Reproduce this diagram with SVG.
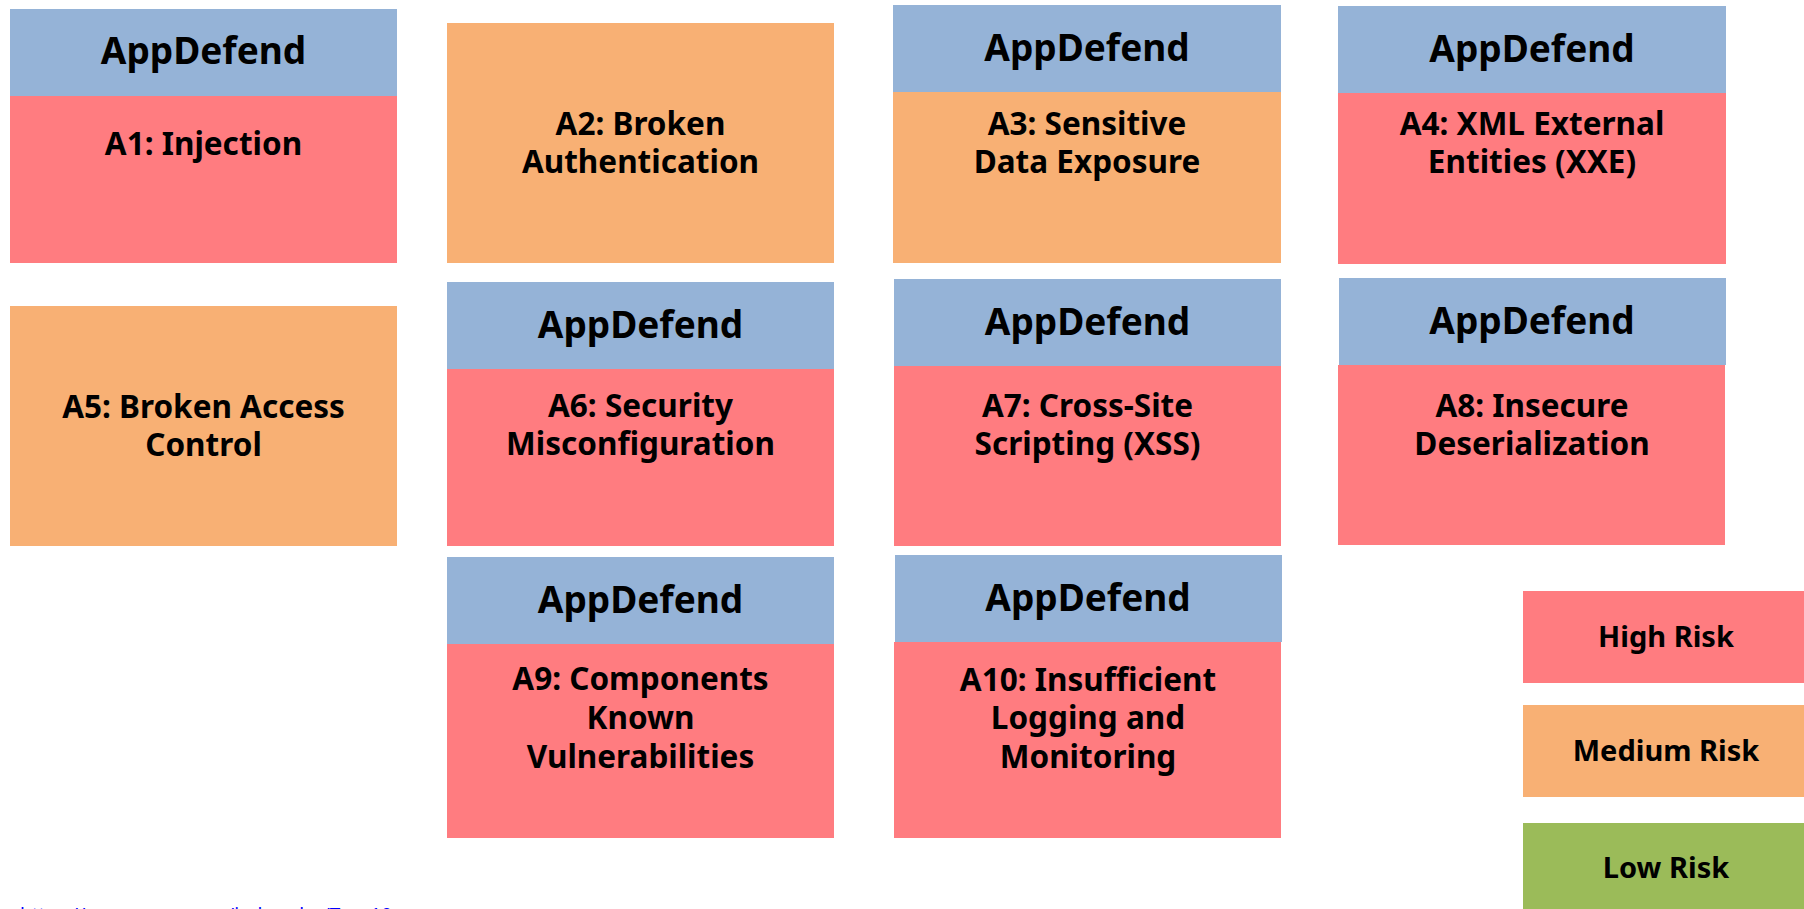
<svg xmlns="http://www.w3.org/2000/svg" width="1804" height="909" viewBox="0 0 1804 909">
<style>
.hd{fill:#95B3D7}
.hi{fill:#FF7C80}
.md{fill:#F8B074}
.lo{fill:#9BBB59}
text{font-family:"Noto Sans","Open Sans","Liberation Sans",sans-serif;font-weight:700;fill:#000;text-anchor:middle}
.h{font-size:37px}
.b{font-size:31.5px}
.l{font-size:29px}
.url{font-size:18px;font-weight:400;fill:#0000FF;text-anchor:start}
</style>
<rect width="1804" height="909" fill="#fff"/>
<g id="a1">
<rect class="hd" x="10" y="9" width="387" height="87"/>
<rect class="hi" x="10" y="96" width="387" height="167"/>
<text class="h" x="203.5" y="64">AppDefend</text>
<text class="b" x="203.5" y="155">A1: Injection</text>
</g>
<g id="a2">
<rect class="md" x="447" y="23" width="387" height="240"/>
<text class="b" x="640.5" y="135">A2: Broken</text>
<text class="b" x="640.5" y="173">Authentication</text>
</g>
<g id="a3">
<rect class="hd" x="893" y="5" width="388" height="87"/>
<rect class="md" x="893" y="92" width="388" height="171"/>
<text class="h" x="1087" y="61">AppDefend</text>
<text class="b" x="1087" y="135">A3: Sensitive</text>
<text class="b" x="1087" y="173">Data Exposure</text>
</g>
<g id="a4">
<rect class="hd" x="1338" y="6" width="388" height="87"/>
<rect class="hi" x="1338" y="93" width="388" height="171"/>
<text class="h" x="1532" y="62">AppDefend</text>
<text class="b" x="1532" y="135">A4: XML External</text>
<text class="b" x="1532" y="173">Entities (XXE)</text>
</g>
<g id="a5">
<rect class="md" x="10" y="306" width="387" height="240"/>
<text class="b" x="203.5" y="418">A5: Broken Access</text>
<text class="b" x="203.5" y="456">Control</text>
</g>
<g id="a6">
<rect class="hd" x="447" y="282" width="387" height="87"/>
<rect class="hi" x="447" y="369" width="387" height="177"/>
<text class="h" x="640.5" y="338">AppDefend</text>
<text class="b" x="640.5" y="417">A6: Security</text>
<text class="b" x="640.5" y="455">Misconfiguration</text>
</g>
<g id="a7">
<rect class="hd" x="894" y="279" width="387" height="87"/>
<rect class="hi" x="894" y="366" width="387" height="180"/>
<text class="h" x="1087.5" y="335">AppDefend</text>
<text class="b" x="1087.5" y="417">A7: Cross-Site</text>
<text class="b" x="1087.5" y="455">Scripting (XSS)</text>
</g>
<g id="a8">
<rect class="hd" x="1339" y="278" width="387" height="87"/>
<rect class="hi" x="1338" y="365" width="387" height="180"/>
<text class="h" x="1532" y="334">AppDefend</text>
<text class="b" x="1532" y="417">A8: Insecure</text>
<text class="b" x="1532" y="455">Deserialization</text>
</g>
<g id="a9">
<rect class="hd" x="447" y="557" width="387" height="87"/>
<rect class="hi" x="447" y="644" width="387" height="194"/>
<text class="h" x="640.5" y="613">AppDefend</text>
<text class="b" x="640.5" y="690">A9: Components</text>
<text class="b" x="640.5" y="729">Known</text>
<text class="b" x="640.5" y="768">Vulnerabilities</text>
</g>
<g id="a10">
<rect class="hd" x="895" y="555" width="387" height="87"/>
<rect class="hi" x="894" y="642" width="387" height="196"/>
<text class="h" x="1088" y="611">AppDefend</text>
<text class="b" x="1088" y="691">A10: Insufficient</text>
<text class="b" x="1088" y="729">Logging and</text>
<text class="b" x="1088" y="768">Monitoring</text>
</g>
<g id="legend-high">
<rect class="hi" x="1523" y="591" width="290" height="92"/>
<text class="l" x="1666" y="647">High Risk</text>
</g>
<g id="legend-medium">
<rect class="md" x="1523" y="705" width="290" height="92"/>
<text class="l" x="1666" y="761">Medium Risk</text>
</g>
<g id="legend-low">
<rect class="lo" x="1523" y="823" width="290" height="95"/>
<text class="l" x="1666" y="878">Low Risk</text>
</g>
<g id="source">
<text class="url" x="20" y="921" textLength="372" lengthAdjust="spacingAndGlyphs">https://www.owasp.org/index.php/Top_10</text>
</g>
</svg>
